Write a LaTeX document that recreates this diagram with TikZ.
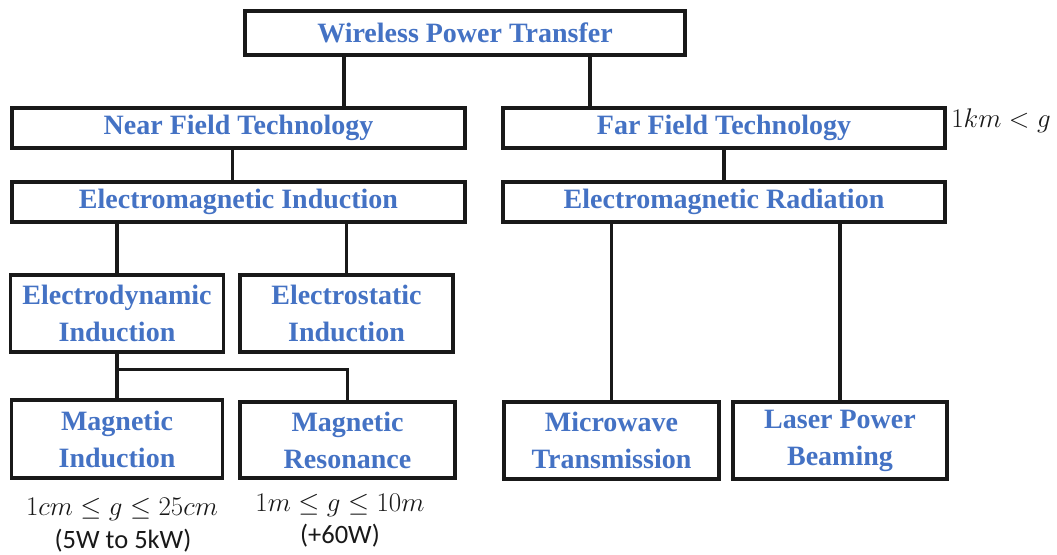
\documentclass[tikz,border=0pt]{standalone}
\usepackage{fix-cm}
\usepackage{fontspec}
\setmainfont{Liberation Serif}
\newfontfamily\carlito{Carlito}
\definecolor{txtblue}{RGB}{68,114,196}
\definecolor{edge}{RGB}{25,25,25}
\begin{document}
\begin{tikzpicture}[x=1pt,y=-1pt,
  box/.style={draw=edge, line width=3.3pt, fill=white, text=txtblue,
    font=\fontsize{28}{37}\selectfont\bfseries, align=center, inner sep=0pt},
  link/.style={line width=3.3pt, draw=edge},
  mathlbl/.style={text=edge, font=\fontsize{27}{30}\selectfont, inner sep=0pt},
  sanslbl/.style={text=edge, font=\carlito\fontsize{26.5}{30}\selectfont, inner sep=0pt}]
\useasboundingbox (0,0) rectangle (1057,554);

\node[box, minimum width=440, minimum height=44] (wpt) at (465,33) {Wireless Power Transfer};
\node[box, minimum width=453, minimum height=40] (near) at (238.5,128) {Near Field Technology};
\node[box, minimum width=442, minimum height=40] (far) at (724,128) {Far Field Technology};
\node[box, minimum width=453, minimum height=40] (emi) at (238.5,202) {Electromagnetic Induction};
\node[box, minimum width=442, minimum height=40] (emr) at (724,202) {Electromagnetic Radiation};
\node[box, minimum width=213, minimum height=77] (edyn) at (117,313.5) {Electrodynamic\\Induction};
\node[box, minimum width=213, minimum height=77] (estat) at (346.5,313.5) {Electrostatic\\Induction};
\node[box, minimum width=211, minimum height=78] (mind) at (117,439) {Magnetic\\Induction};
\node[box, minimum width=215, minimum height=76] (mres) at (347.5,440) {Magnetic\\Resonance};
\node[box, minimum width=215, minimum height=77] (micro) at (611.5,440.5) {Microwave\\Transmission};
\node[box, minimum width=214, minimum height=77] (laser) at (840,440.5) {Laser Power\\Beaming};

\draw[link] ([xshift=-121pt]wpt.south) -- ([xshift=-121pt]wpt.south |- near.north);
\draw[link] ([xshift=125pt]wpt.south) -- ([xshift=125pt]wpt.south |- far.north);
\draw[link] ([xshift=-6pt]near.south) -- ([xshift=-6pt]near.south |- emi.north);
\draw[link] (far.south) -- (emr.north);
\draw[link] (edyn.north |- emi.south) -- (edyn.north);
\draw[link] (estat.north |- emi.south) -- (estat.north);
\draw[link] (edyn.south) -- (mind.north);
\coordinate (split) at ([yshift=-16pt]edyn.south);
\draw[link] (split) -| (mres.north);
\draw[link] (micro.north |- emr.south) -- (micro.north);
\draw[link] (laser.north |- emr.south) -- (laser.north);

\node[mathlbl] (l1) at (122,509) {$1cm \leq g \leq 25cm$};
\node[sanslbl] (s1) at (123,541) {(5W to 5kW)};
\node[mathlbl] (l2) at (340,505) {$1m \leq g \leq 10m$};
\node[sanslbl] (s2) at (340,536) {(+60W)};
\node[mathlbl] (l3) at (1001,121) {$1km < g$};
\end{tikzpicture}
\end{document}
